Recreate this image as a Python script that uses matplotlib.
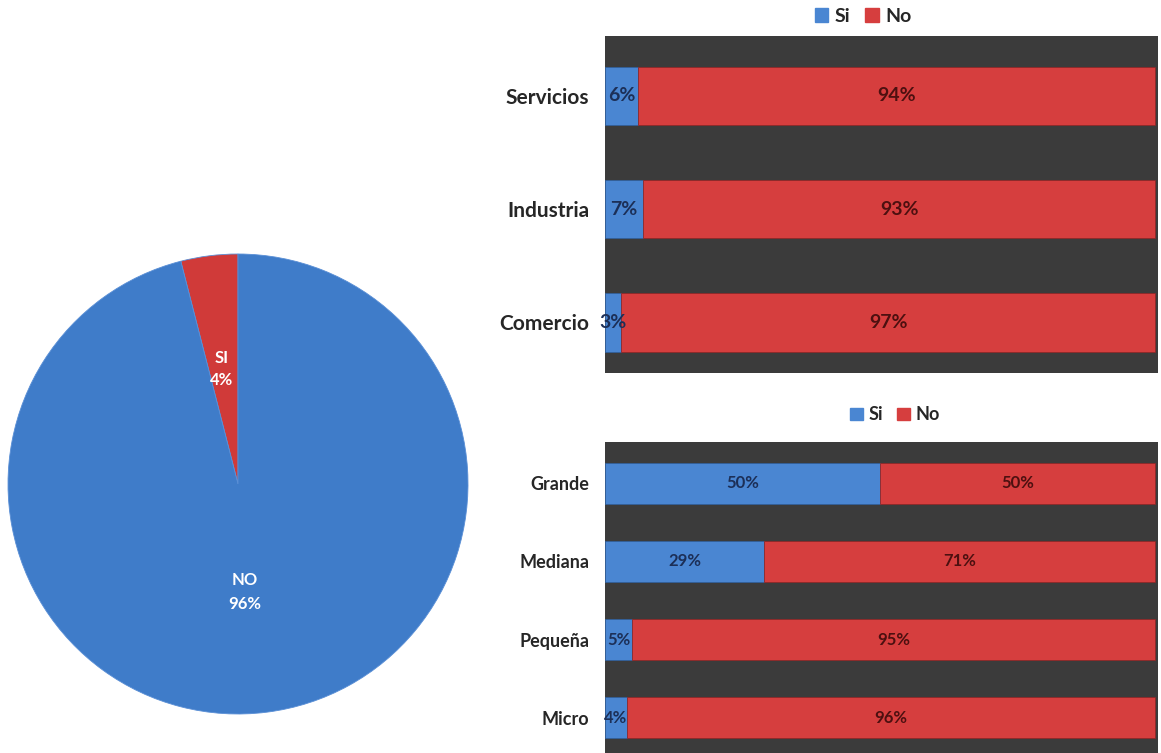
import matplotlib
matplotlib.use("Agg")
import matplotlib.pyplot as plt
import matplotlib.patches as mpatches

plt.rcParams["font.family"] = ["Lato", "DejaVu Sans"]

# datos
pie_labels = ["SI", "NO"]
pie_values = [4, 96]

sector_cats = ["Comercio", "Industria", "Servicios"]
sector_si = [3, 7, 6]
sector_no = [97, 93, 94]

size_cats = ["Micro", "Pequeña", "Mediana", "Grande"]
size_si = [4, 5, 29, 50]
size_no = [96, 95, 71, 50]

BLUE = "#4a86d2"
RED = "#d63e3e"
PIE_BLUE = "#3f7cc9"
PIE_RED = "#d03a39"
BG = "#3b3b3b"

W, H = 1161, 753
fig = plt.figure(figsize=(W / 100, H / 100), dpi=100)
fig.patch.set_facecolor("white")


def box(x0, y0, x1, y1):
    # pixel coords (top-left origin) -> figure fraction
    return [x0 / W, 1 - y1 / H, (x1 - x0) / W, (y1 - y0) / H]


# pastel
axp = fig.add_axes(box(8, 254, 468, 714))
wedges, _ = axp.pie(pie_values, colors=[PIE_RED, PIE_BLUE], startangle=90,
                    counterclock=True, radius=1,
                    wedgeprops=dict(edgecolor="#5a8fd6", linewidth=0.6))
axp.set_xlim(-1, 1)
axp.set_ylim(-1, 1)
axp.set_aspect("equal")
axp.text(-0.07, 0.50, f"{pie_labels[0]}\n{pie_values[0]}%", color="white",
         ha="center", va="center", fontsize=12, fontweight="bold", linespacing=1.4)
axp.text(0.03, -0.47, f"{pie_labels[1]}\n{pie_values[1]}%", color="white",
         ha="center", va="center", fontsize=12, fontweight="bold", linespacing=1.6)


def stacked(ax, cats, si, no, fs_lab, fs_val):
    ax.set_facecolor(BG)
    y = range(len(cats))
    ax.barh(y, si, color=BLUE, height=0.52, edgecolor="#2f5f9e", linewidth=0.5)
    ax.barh(y, no, left=si, color=RED, height=0.52, edgecolor="#8e2424", linewidth=0.5)
    for i in y:
        ax.text(si[i] / 2, i, f"{si[i]}%", ha="center", va="center",
                fontsize=fs_val, fontweight="bold", color="#1c2f57")
        ax.text(si[i] + no[i] / 2, i, f"{no[i]}%", ha="center", va="center",
                fontsize=fs_val, fontweight="bold", color="#4d1010")
    ax.set_xlim(0, 100.6)
    ax.set_yticks(list(y))
    ax.set_yticklabels(cats, fontsize=fs_lab, fontweight="bold", color="#262626")
    ax.tick_params(left=False, bottom=False, labelbottom=False, pad=8)
    for s in ax.spines.values():
        s.set_visible(False)


ax1 = fig.add_axes(box(605, 36, 1158, 373))
stacked(ax1, sector_cats, sector_si, sector_no, 15, 14)
ax1.set_ylim(-0.45, 2.53)

ax2 = fig.add_axes(box(605, 442, 1158, 759))
stacked(ax2, size_cats, size_si, size_no, 13, 12)
ax2.set_ylim(-0.53, 3.53)

handles = [mpatches.Patch(color=BLUE, label="Si"), mpatches.Patch(color=RED, label="No")]
for (cx, cy, fs) in [(863, 16, 14), (895, 415, 13)]:
    fig.legend(handles=handles, loc="center", bbox_to_anchor=(cx / W, 1 - cy / H),
               ncol=2, frameon=False, handlelength=0.7, handleheight=0.7,
               handletextpad=0.3, columnspacing=0.8,
               prop=dict(size=fs, weight="bold"), labelcolor="#262626")

plt.savefig("out.png", dpi=100)
